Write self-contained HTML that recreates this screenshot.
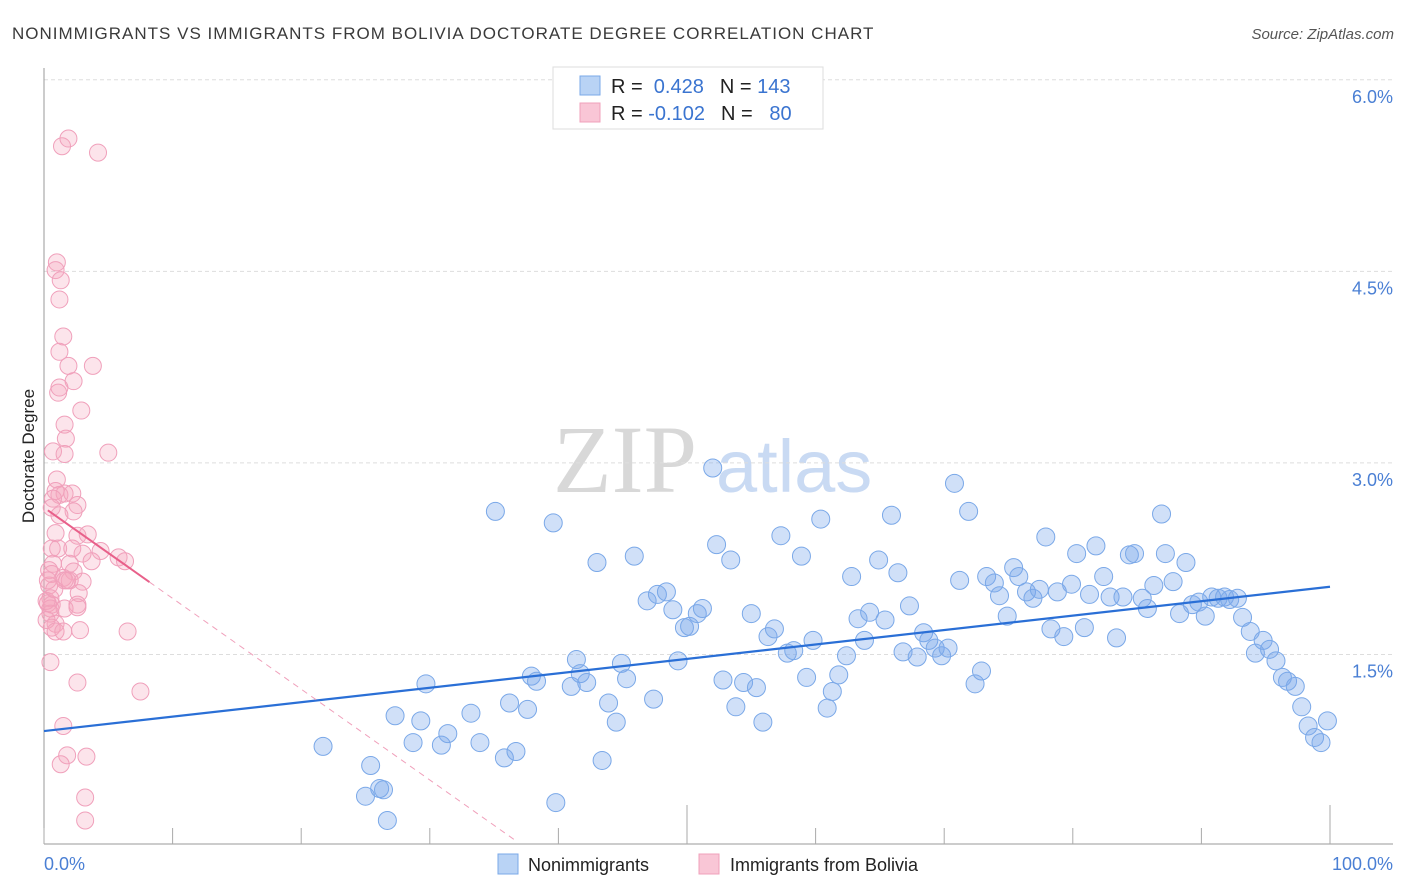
<!DOCTYPE html>
<html><head><meta charset="utf-8"><style>
body{margin:0;background:#fff;font-family:"Liberation Sans",sans-serif}
svg{display:block}
</style></head><body>
<svg id="c" width="1406" height="892">
<text x="12" y="39" font-size="17" letter-spacing="1" fill="#3a3a3a">NONIMMIGRANTS VS IMMIGRANTS FROM BOLIVIA DOCTORATE DEGREE CORRELATION CHART</text>
<text x="1394" y="39" font-size="15" fill="#555" font-style="italic" text-anchor="end">Source: ZipAtlas.com</text>
<g>
<text x="553" y="492" font-size="96" fill="#d8d8d8" font-family="Liberation Serif,serif">ZIP</text>
<text x="716" y="492" font-size="74" fill="#c9daf3">atlas</text>
</g>
<g id="grid"></g><g id="axes"></g><g id="pts"></g><g id="trend"></g>
<text transform="translate(34,456) rotate(-90)" font-size="17" fill="#222" text-anchor="middle">Doctorate Degree</text>
<text x="44" y="870" font-size="18" fill="#4a7fd4">0.0%</text>
<text x="1393" y="870" font-size="18" fill="#4a7fd4" text-anchor="end">100.0%</text>
<g>
<rect x="553" y="67" width="270" height="62" fill="#fff" stroke="#ddd"/>
<rect x="580" y="76" width="20" height="19" fill="#b9d3f5" stroke="#7aa8e8"/>
<rect x="580" y="103" width="20" height="19" fill="#f9c6d6" stroke="#f0a0bb"/>
<text x="611" y="93" font-size="20" fill="#222">R = <tspan fill="#3a74d0">&#160;0.428</tspan><tspan dx="16">N = </tspan><tspan fill="#3a74d0">143</tspan></text>
<text x="611" y="120" font-size="20" fill="#222">R = <tspan fill="#3a74d0">-0.102</tspan><tspan dx="16">N = </tspan><tspan fill="#3a74d0">&#160;&#160;80</tspan></text>
</g>
<g>
<rect x="498" y="854" width="20" height="20" fill="#b9d3f5" stroke="#7aa8e8"/>
<text x="528" y="871" font-size="18" fill="#222">Nonimmigrants</text>
<rect x="699" y="854" width="20" height="20" fill="#f9c6d6" stroke="#f0a0bb"/>
<text x="730" y="871" font-size="18" fill="#222">Immigrants from Bolivia</text>
</g>
</svg>
<script>
const yTicks=[1.5,3.0,4.5,6.0];
const yTickLabels=["1.5%","3.0%","4.5%","6.0%"];
const xTicks=[0,10,20,30,40,50,60,70,80,90,100];
const blueX=[21.7,25.4,25.0,26.1,26.4,26.7,27.3,28.7,29.3,29.7,30.9,31.4,33.2,33.9,35.1,35.8,36.2,36.7,37.6,37.9,38.3,39.6,39.8,41.0,41.4,41.7,42.2,43.0,43.4,43.9,44.5,44.9,45.3,45.9,46.9,47.4,47.7,48.4,48.9,49.3,49.8,50.2,50.8,51.2,52.0,52.3,52.8,53.4,53.8,54.4,55.0,55.4,55.9,56.3,56.8,57.3,57.8,58.3,58.9,59.3,59.8,60.4,60.9,61.3,61.8,62.4,62.8,63.3,63.8,64.2,64.9,65.4,65.9,66.4,66.8,67.3,67.9,68.4,68.8,69.3,69.8,70.3,70.8,71.2,71.9,72.4,72.9,73.3,73.9,74.3,74.9,75.4,75.8,76.4,76.9,77.4,77.9,78.3,78.8,79.3,79.9,80.3,80.9,81.3,81.8,82.4,82.9,83.4,83.9,84.4,84.8,85.4,85.8,86.3,86.9,87.2,87.8,88.3,88.8,89.3,89.8,90.3,90.8,91.3,91.8,92.2,92.8,93.2,93.8,94.2,94.8,95.3,95.8,96.3,96.7,97.3,97.8,98.3,98.8,99.3,99.8];
const blueY=[0.78,0.63,0.39,0.45,0.44,0.20,1.02,0.81,0.98,1.27,0.79,0.88,1.04,0.81,2.62,0.69,1.12,0.74,1.07,1.33,1.29,2.53,0.34,1.25,1.46,1.35,1.28,2.22,0.67,1.12,0.97,1.43,1.31,2.27,1.92,1.15,1.97,1.99,1.85,1.45,1.71,1.72,1.82,1.86,2.96,2.36,1.30,2.24,1.09,1.28,1.82,1.24,0.97,1.64,1.70,2.43,1.51,1.53,2.27,1.32,1.61,2.56,1.08,1.21,1.34,1.49,2.11,1.78,1.61,1.83,2.24,1.77,2.59,2.14,1.52,1.88,1.48,1.67,1.61,1.55,1.49,1.55,2.84,2.08,2.62,1.27,1.37,2.11,2.06,1.96,1.80,2.18,2.11,1.99,1.94,2.01,2.42,1.70,1.99,1.64,2.05,2.29,1.71,1.97,2.35,2.11,1.95,1.63,1.95,2.28,2.29,1.94,1.86,2.04,2.60,2.29,2.07,1.82,2.22,1.89,1.91,1.80,1.95,1.94,1.95,1.93,1.94,1.79,1.68,1.51,1.61,1.54,1.45,1.32,1.29,1.25,1.09,0.94,0.85,0.81,0.98];
const pinkX=[1.4,1.9,4.2,1.0,0.9,1.3,1.2,1.5,1.2,3.8,1.9,2.3,1.1,1.2,2.9,1.6,1.7,0.7,1.6,5.0,1.0,0.9,1.6,1.2,2.2,0.7,2.6,0.6,2.3,1.2,0.9,2.6,3.4,0.6,1.1,2.2,4.4,3.0,5.8,6.3,3.7,0.7,2.0,2.3,0.4,0.6,1.5,2.0,1.6,1.8,3.0,0.4,2.7,0.5,0.3,0.6,0.5,2.6,1.6,2.6,0.5,0.9,0.2,0.6,0.9,2.8,6.5,1.5,0.5,2.6,7.5,1.5,1.8,3.3,1.3,3.2,3.2,0.3,0.2,0.8];
const pinkY=[5.48,5.54,5.43,4.57,4.51,4.43,4.28,3.99,3.87,3.76,3.76,3.64,3.55,3.59,3.41,3.30,3.19,3.09,3.07,3.08,2.87,2.78,2.76,2.75,2.76,2.72,2.67,2.65,2.62,2.59,2.45,2.43,2.44,2.33,2.33,2.33,2.31,2.29,2.26,2.23,2.23,2.21,2.21,2.15,2.16,2.13,2.10,2.08,2.08,2.08,2.07,2.04,1.98,1.94,1.90,1.89,1.86,1.89,1.86,1.87,1.82,1.74,1.77,1.71,1.68,1.69,1.68,1.68,1.44,1.28,1.21,0.94,0.71,0.70,0.64,0.38,0.20,2.08,1.92,2.01];
const blueTrend=[0.90,2.03];
const pinkTrend=[2.65,-0.0711];
const pinkSolidEnd=8.2, pinkDashEnd=36.6;

const NS="http://www.w3.org/2000/svg";
const X=v=>44+v*12.86, Y=v=>846-v*127.7;
function mk(tag,attrs,parent){const e=document.createElementNS(NS,tag);for(const k in attrs)e.setAttribute(k,attrs[k]);document.getElementById(parent).appendChild(e);return e;}
yTicks.forEach((t,i)=>{
 const g=mk('line',{x1:44,x2:1393,y1:Y(t),y2:Y(t),stroke:'#ddd','stroke-dasharray':'4,3'},'grid');
 
 
 const l=mk('text',{x:1393,y:Y(t)+23,'font-size':18,fill:'#4a7fd4','text-anchor':'end'},'grid');
 l.textContent=yTickLabels[i];
 
 
});
const ax=mk('line',{x1:44,x2:44,y1:68,y2:844,stroke:'#999'},'axes');


const bx=mk('line',{x1:44,x2:1393,y1:844,y2:844,stroke:'#999'},'axes');


xTicks.forEach(t=>{
 const tk=mk('line',{x1:X(t),x2:X(t),y1:(t%50===0&&t>0)?805:828,y2:844,stroke:'#aaa'},'axes');
 
 
});
blueX.forEach((v,i)=>{
 const c=mk('circle',{cx:X(v),cy:Y(blueY[i]),r:9,fill:'rgba(120,165,235,0.35)',stroke:'#7aa8e8','stroke-width':1},'pts');
 
 
});
pinkX.forEach((v,i)=>{
 const c=mk('circle',{cx:X(v),cy:Y(pinkY[i]),r:8.5,fill:'rgba(245,165,190,0.3)',stroke:'#f0a0bb','stroke-width':1},'pts');
 
 
});
const bt=mk('line',{x1:X(0),y1:Y(blueTrend[0]),x2:X(100),y2:Y(blueTrend[1]),stroke:'#2a6fd6','stroke-width':2.2},'trend');


const pf=x=>pinkTrend[0]+pinkTrend[1]*x;
const ps=mk('line',{x1:X(0.3),y1:Y(pf(0.3)),x2:X(pinkSolidEnd),y2:Y(pf(pinkSolidEnd)),stroke:'#e8608a','stroke-width':2},'trend');


const pd=mk('line',{x1:X(pinkSolidEnd),y1:Y(pf(pinkSolidEnd)),x2:X(pinkDashEnd),y2:Y(pf(pinkDashEnd)),stroke:'#f0a0bb','stroke-width':1,'stroke-dasharray':'6,5'},'trend');


</script>
</body></html>
